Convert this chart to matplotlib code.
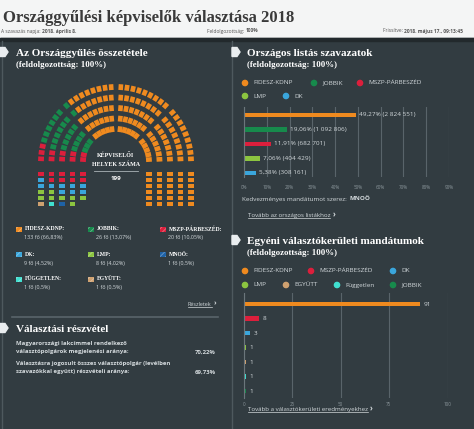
import numpy as np
import matplotlib
matplotlib.use('Agg')
import matplotlib.pyplot as plt
from matplotlib.patches import Rectangle, Polygon, Circle
from matplotlib.collections import PolyCollection

W, H = 474, 429

# --- adatok ---
parties = ['FIDESZ-KDNP', 'JOBBIK', 'MSZP-PÁRBESZÉD', 'DK', 'LMP', 'MNOÖ', 'FÜGGETLEN', 'EGYÜTT']
seats = [133, 26, 20, 9, 8, 1, 1, 1]
seat_pct = ['66,83%', '13,07%', '10,05%', '4,52%', '4,02%', '0,5%', '0,5%', '0,5%']
pcol = ['#ef8a1f', '#178a4c', '#dc1f3c', '#3aa6dc', '#8cc540', '#1e62a6', '#40e0d0', '#cfa170']
col = dict(zip(parties, pcol))
col['Független'] = col['FÜGGETLEN']

list_parties = ['FIDESZ-KDNP', 'JOBBIK', 'MSZP-PÁRBESZÉD', 'LMP', 'DK']
list_pct = [49.27, 19.06, 11.91, 7.06, 5.38]
list_votes = ['2 824 551', '1 092 806', '682 701', '404 429', '308 161']
list_ticks = [0, 10, 20, 30, 40, 50, 60, 70, 80, 90]

dist_parties = ['FIDESZ-KDNP', 'MSZP-PÁRBESZÉD', 'DK', 'LMP', 'EGYÜTT', 'Független', 'JOBBIK']
dist_seats = [91, 8, 3, 1, 1, 1, 1]
dist_ticks = ['0', '25', '50', '75', '100']

turnout_rows = [('Magyarországi lakcímmel rendelkező\nválasztópolgárok megjelenési aránya:', '70,22%'),
                ('Választásra jogosult összes választópolgár (levélben\nszavazókkal együtt) részvételi aránya:', '69,73%')]

BG = '#323c41'
LINE = '#4e595e'
TXT = '#d3d9dc'
SERIF = 'Liberation Serif'
SANS = ['Open Sans', 'DejaVu Sans']

fig = plt.figure(figsize=(W / 100, H / 100), dpi=100)
bg = fig.add_axes([0, 0, 1, 1])
bg.set_xlim(0, W)
bg.set_ylim(H, 0)
bg.axis('off')
renderer = fig.canvas.get_renderer()

bg.add_patch(Rectangle((0, 0), W, 38, color='#f4f5f5', zorder=0))
bg.add_patch(Rectangle((0, 38), W, H - 38, color=BG, zorder=0))
bg.add_patch(Rectangle((0, 37.5), W, 3, color='#22292c', zorder=1))
bg.plot([2.5, 2.5], [41, H], color=LINE, lw=1)
bg.plot([232, 232], [41, H], color=LINE, lw=1)


def txt(x, y, s, **kw):
    kw.setdefault('va', 'center')
    return bg.text(x, y, s, **kw)


def px_width(t):
    bb = t.get_window_extent(renderer)
    return bb.width


def rich(x, y, parts, **kw):
    for s, extra in parts:
        t = txt(x, y, s, **kw, **extra)
        x += px_width(t)
    return x


def underline(t, y, color):
    bb = t.get_window_extent(renderer)
    bg.plot([bb.x0, bb.x1], [y, y], color=color, lw=0.5)


def link(x, y, s, size):
    t = txt(x, y, s, family=SANS, fontsize=size, color=TXT)
    txt(x + px_width(t) + 2, y, '›', family=SANS, weight='bold', fontsize=size + 1.2, color=TXT)
    underline(t, y + 2.8, TXT)


def tag(x, y):
    bg.add_patch(Polygon([(x, y - 4.5), (x + 5, y - 4.5), (x + 8, y), (x + 5, y + 4.5), (x, y + 4.5)],
                         closed=True, color='#e9edef', zorder=3))


def heading(x, y, title, sub=None):
    tag(x - 16 if x < 100 else 232, y - 1)
    txt(x, y, title, family=SERIF, weight='bold', fontsize=8.0, color='white')
    if sub:
        txt(x, y + 12, sub, family=SERIF, weight='bold', fontsize=6.4, color='white')


# --- fejléc ---
txt(3, 18, 'Országgyűlési képviselők választása 2018', family=SERIF, weight='bold',
    fontsize=12.0, color='#3a3a3a')
hk = dict(family=SANS, fontsize=3.5, color='#555555')
rich(1, 31, [('A szavazás napja: ', {}), ('2018. április 8.', {'weight': 'bold'})], **hk)
rich(207, 31, [('Feldolgozottság: ', {}), ('100%', {'weight': 'bold'})], **hk)
rich(383, 31, [('Frissítve: ', {}), ('2018. május 17., 09:13:45', {'weight': 'bold'})], **hk)

# --- Az Országgyűlés összetétele ---
heading(16, 53, 'Az Országgyűlés összetétele', '(feldolgozottság: 100%)')

cx, cy = 116, 162
radii = [33, 43.5, 54, 64.5, 75]
per_sector = [5, 6, 7, 8, 9]
aisle = 3.5
arc = []
for r, k in zip(radii, per_sector):
    for s in range(4):
        a_hi = np.pi - s * np.pi / 4
        a_lo = a_hi - np.pi / 4
        g_hi = 0 if s == 0 else aisle / 2 / r
        g_lo = 0 if s == 3 else aisle / 2 / r
        span = (a_hi - g_hi) - (a_lo + g_lo)
        for i in range(k):
            arc.append((a_hi - g_hi - (i + 0.5) * span / k, r))
arc.sort(key=lambda t: -t[0])

hr, ht = 2.9, 2.3
rows_y = [174, 180, 186, 192, 198, 204]
left_pos = []
for j in range(len(rows_y) - 1, -1, -1):
    for r in radii[::-1]:
        if j == len(rows_y) - 1 and r == radii[0]:
            continue
        left_pos.append((cx - r, rows_y[j]))
right_pos = [(cx + r, y) for y in rows_y for r in radii]

seat_left = {p: n for p, n in zip(parties, seats)}
left_order = ['EGYÜTT', 'FÜGGETLEN', 'MNOÖ', 'LMP', 'DK', 'MSZP-PÁRBESZÉD']
left_cols = []
for p in left_order:
    take = min(seat_left[p], len(left_pos) - len(left_cols))
    left_cols += [col[p]] * take
    seat_left[p] -= take
seat_left['FIDESZ-KDNP'] -= len(right_pos)
arc_cols = []
for p in ['MSZP-PÁRBESZÉD', 'JOBBIK', 'FIDESZ-KDNP']:
    arc_cols += [col[p]] * seat_left[p]

polys, fcs = [], []
for (th, r), c in zip(arc, arc_cols):
    p = np.array([cx + r * np.cos(th), cy - r * np.sin(th)])
    u = np.array([np.cos(th), -np.sin(th)])
    t = np.array([np.sin(th), np.cos(th)])
    polys.append([p + hr * u + ht * t, p + hr * u - ht * t, p - hr * u - ht * t, p - hr * u + ht * t])
    fcs.append(c)
for (x, y), c in list(zip(left_pos, left_cols)) + [(q, col['FIDESZ-KDNP']) for q in right_pos]:
    polys.append([(x - hr, y - ht), (x + hr, y - ht), (x + hr, y + ht), (x - hr, y + ht)])
    fcs.append(c)
bg.add_collection(PolyCollection(polys, facecolors=fcs, edgecolors='none', zorder=4))

txt(cx, 155, 'KÉPVISELŐI', family=SERIF, weight='bold', fontsize=4.3, color='white', ha='center')
txt(cx, 164, 'HELYEK SZÁMA', family=SERIF, weight='bold', fontsize=4.3, color='white', ha='center')
bg.plot([94, 138], [170.5, 170.5], color='#aab3b7', lw=0.6)
txt(cx, 178, str(sum(seats)), family=SANS, weight='bold', fontsize=4.5, color='white', ha='center')

plt.rcParams['hatch.linewidth'] = 0.6
lx = [16, 88, 160]
ly = [229, 254, 279]
for i, (p, n, pc) in enumerate(zip(parties, seats, seat_pct)):
    x, y = lx[i % 3], ly[i // 3]
    bg.add_patch(Rectangle((x, y - 2.5), 6.5, 5, facecolor=col[p], hatch='//////',
                           edgecolor=(1, 1, 1, 0.35), lw=0))
    txt(x + 8.5, y, p + ':', family=SERIF, weight='bold', fontsize=4.1, color='white')
    txt(x + 8.5, y + 9, f'{n} fő ({pc})', family=SANS, fontsize=3.9, color=TXT)

link(188, 304, 'Részletek', 3.9)
bg.plot([12, 218], [316.5, 316.5], color='#59646a', lw=1.2)

# --- Választási részvétel ---
heading(16, 329, 'Választási részvétel')
for k, (lab, val) in enumerate(turnout_rows):
    y0 = 347.5 + k * 20
    txt(16, y0, lab, family=SANS, weight='bold', fontsize=4.3, color=TXT, linespacing=1.75)
    txt(216, y0 + 4.5, val, family=SANS, weight='bold', fontsize=4.3, color=TXT, ha='right')


# --- oszlopdiagramok ---
def legend_row(y, items):
    for x, p in items:
        bg.add_patch(Circle((x, y), 2.6, color=col[p]))
        txt(x + 8.5, y, p, family=SANS, fontsize=4.6, color=TXT)


def bar_axes(x0, x1, y0, y1):
    ax = fig.add_axes([x0 / W, 1 - y1 / H, (x1 - x0) / W, (y1 - y0) / H])
    ax.set_facecolor('none')
    for s in ['top', 'right', 'bottom']:
        ax.spines[s].set_visible(False)
    ax.spines['left'].set_color('#6b767b')
    ax.spines['left'].set_linewidth(0.8)
    ax.grid(axis='x', color='#59646a', lw=0.8)
    ax.set_axisbelow(True)
    ax.set_yticks([])
    ax.tick_params(axis='x', length=0, labelsize=3.3, labelcolor='#8b969b')
    return ax


heading(247, 53, 'Országos listás szavazatok', '(feldolgozottság: 100%)')
legend_row(83, [(245, 'FIDESZ-KDNP'), (314, 'JOBBIK'), (360, 'MSZP-PÁRBESZÉD')])
legend_row(96, [(245, 'LMP'), (286, 'DK')])
ax1 = bar_axes(244, 449, 107, 177)
yy = np.arange(len(list_parties))
ax1.barh(yy, list_pct, height=[0.34] + [0.29] * (len(yy) - 1), color=[col[p] for p in list_parties])
for y, v, n in zip(yy, list_pct, list_votes):
    ax1.text(v + 1.2, y, f'{v:.2f}'.replace('.', ',') + f'% ({n})', va='center', ha='left',
             fontsize=4.6, color=TXT, family=SANS)
ax1.set_xlim(0, 90)
ax1.set_ylim(4.28, -0.55)
ax1.set_xticks(list_ticks, [f'{v}%' for v in list_ticks])
ax1.tick_params(axis='x', pad=6)
for lab in ax1.get_xticklabels():
    lab.set_family(SANS)
rich(242, 199, [('Kedvezményes mandátumot szerez:  ', {}), ('MNOÖ', {'weight': 'bold'})],
     family=SANS, fontsize=4.5, color=TXT)
link(248, 215, 'Tovább az országos listákhoz', 4.4)

heading(247, 241, 'Egyéni választókerületi mandátumok', '(feldolgozottság: 100%)')
legend_row(271, [(245, 'FIDESZ-KDNP'), (311, 'MSZP-PÁRBESZÉD'), (393, 'DK')])
legend_row(285, [(245, 'LMP'), (286, 'EGYÜTT'), (337, 'Független'), (393, 'JOBBIK')])
ax2 = bar_axes(244, 448, 293, 398)
yy = np.arange(len(dist_parties))
ax2.barh(yy, dist_seats, height=[0.34] + [0.29] * (len(yy) - 1), color=[col[p] for p in dist_parties])
for y, v in zip(yy, dist_seats):
    ax2.text(v + 1.8, y, str(v), va='center', ha='left', fontsize=4.6, color=TXT, family=SANS)
ax2.set_xlim(0, 105.6)
ax2.set_ylim(6.48, -0.76)
ax2.set_xticks([0, 25, 50, 75, 105.6], dist_ticks)
ax2.tick_params(axis='x', pad=3)
for lab in ax2.get_xticklabels():
    lab.set_family(SANS)
link(248, 409, 'Tovább a választókerületi eredményekhez', 4.4)

fig.savefig('out.png', dpi=100)
